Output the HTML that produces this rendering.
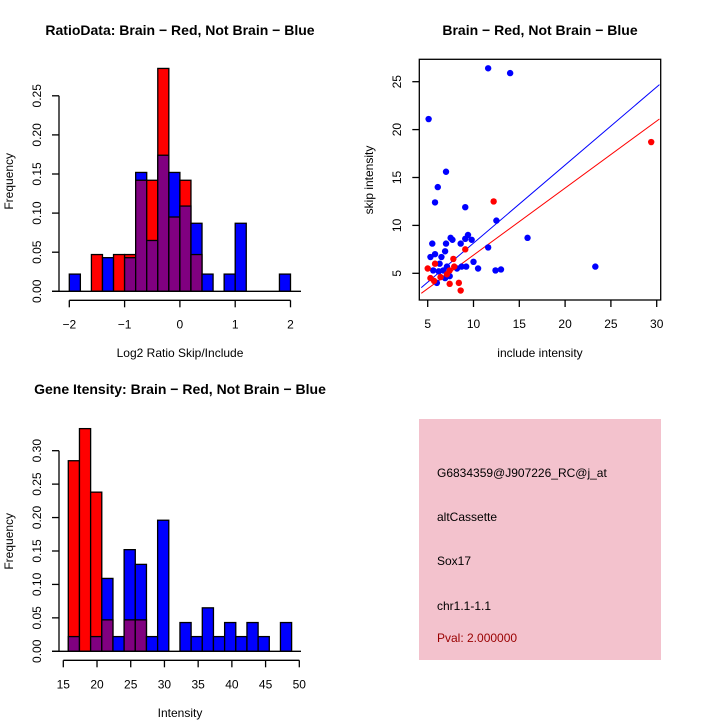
<!DOCTYPE html>
<html><head><meta charset="utf-8"><style>
body{margin:0;background:#fff}
svg{display:block;font-family:"Liberation Sans",sans-serif}
</style></head><body>
<svg id="c" width="720" height="720" viewBox="0 0 720 720">
<g id="g1"></g>
<g id="g2"></g>
<g id="g3"></g>
<g id="g4">
<rect x="419" y="419" width="242" height="241" fill="#f3c2cd"/>
<text x="437" y="477" font-size="12">G6834359@J907226_RC@j_at</text>
<text x="437" y="521" font-size="12">altCassette</text>
<text x="437" y="565" font-size="12">Sox17</text>
<text x="437" y="610" font-size="12">chr1.1-1.1</text>
<text x="437" y="642" font-size="12" fill="#990000">Pval: 2.000000</text>
</g>
</svg>
<script>
// Panel 1: ratio histogram
const ratioBinStart = -2, ratioBinWidth = 0.2;
const ratioBlue = [0.022,0,0,0.043,0,0.043,0.152,0.065,0.174,0.152,0.109,0.087,0.022,0,0.022,0.087,0,0,0,0.022];
const ratioRed  = [0,0,0.047,0,0.047,0.047,0.142,0.142,0.285,0.095,0.142,0.047,0,0,0,0,0,0,0,0];
const ratioXTicks = [-2,-1,0,1,2];
const ratioYTicks = [0,0.05,0.10,0.15,0.20,0.25];
const ratioYLabels = ["0.00","0.05","0.10","0.15","0.20","0.25"];
// Panel 2: scatter
const blueInclude = [11.6,14.0,5.1,7.0,6.1,5.8,9.1,12.5,15.9,23.3,11.6,12.4,13.0,10.5,10.0,9.4,9.8,8.6,7.5,7.7,7.0,5.5,6.9,5.3,5.8,6.3,6.7,6.0,6.9,7.4,9.2,8.7,8.2,5.6,6.2,7.1,6.5,9.1];
const blueSkip    = [26.4,25.9,21.1,15.6,14.0,12.4,11.9,10.5,8.7,5.7,7.7,5.3,5.4,5.5,6.2,9.0,8.5,8.1,8.7,8.5,8.1,8.1,7.3,6.7,7.0,6.0,5.3,4.0,4.5,4.7,5.7,5.7,5.5,5.3,5.2,5.7,6.7,8.6];
const redInclude = [29.4,12.2,9.1,7.8,5.0,5.3,5.7,5.8,6.4,7.4,8.4,8.6,7.4,7.9,7.1];
const redSkip    = [18.7,12.5,7.5,6.5,5.5,4.5,4.2,6.0,4.6,3.9,4.0,3.2,5.3,5.7,4.9];
const blueFit = [0.0, 0.815];
const redFit = [-0.1, 0.70];
const scatterXTicks = [5,10,15,20,25,30];
const scatterYTicks = [5,10,15,20,25];
// Panel 3: intensity histogram
const intBinStart = 15.74, intBinWidth = 1.656;
const intBlue = [0.022,0,0.022,0.109,0.022,0.152,0.130,0.022,0.196,0,0.043,0.022,0.065,0.022,0.043,0.022,0.043,0.022,0,0.043];
const intRed  = [0.285,0.333,0.238,0.047,0,0.047,0.047,0,0,0,0,0,0,0,0,0,0,0,0,0];
const intXTicks = [15,20,25,30,35,40,45,50];
const intYTicks = [0,0.05,0.10,0.15,0.20,0.25,0.30];
const intYLabels = ["0.00","0.05","0.10","0.15","0.20","0.25","0.30"];

const NS="http://www.w3.org/2000/svg";
function mk(parent,tag,attrs,text){const e=document.createElementNS(NS,tag);for(const k in attrs)e.setAttribute(k,attrs[k]);if(text!==undefined)e.textContent=text;parent.appendChild(e);return e;}

function histPanel(g,o){
  const X=v=>o.x0+(v-o.xv0)*o.xs, Y=v=>o.y0-v*o.ys;
  for(let i=0;i<o.blue.length;i++){
    const b=o.blue[i], r=o.red[i];
    const l=X(o.binStart+i*o.binW), w=o.binW*o.xs;
    const mx=Math.max(b,r), mn=Math.min(b,r);
    if(mx>0){
      const e=mk(g,'rect',{x:l,y:Y(mx),width:w,height:mx*o.ys,fill:b>=r?'#0000ff':'#ff0000',stroke:'#000','stroke-width':1.3});
      
      
    }
    if(mn>0){
      const e=mk(g,'rect',{x:l,y:Y(mn),width:w,height:mn*o.ys,fill:'#800080',stroke:'#000','stroke-width':1.3});
      
      
    }
  }
  mk(g,'line',{x1:52,x2:301,y1:o.y0,y2:o.y0,stroke:'#000','stroke-width':1.3});
  const xa=o.y0+9;
  mk(g,'line',{x1:X(o.xt[0]),x2:X(o.xt[o.xt.length-1]),y1:xa,y2:xa,stroke:'#000','stroke-width':1.3});
  o.xt.forEach(t=>{mk(g,'line',{x1:X(t),x2:X(t),y1:xa,y2:xa+7,stroke:'#000','stroke-width':1.3});
    const e=mk(g,'text',{x:X(t),y:xa+28,'font-size':12,'text-anchor':'middle'},String(t).replace('-','\u2212'));
    
    });
  const ya=59;
  mk(g,'line',{x1:ya,x2:ya,y1:Y(o.yt[0]),y2:Y(o.yt[o.yt.length-1]),stroke:'#000','stroke-width':1.3});
  o.yt.forEach((t,i)=>{mk(g,'line',{x1:ya-7,x2:ya,y1:Y(t),y2:Y(t),stroke:'#000','stroke-width':1.3});
    const e=mk(g,'text',{x:0,y:0,'font-size':12,'text-anchor':'middle',transform:`translate(41,${Y(t)}) rotate(-90)`},o.yl[i]);
    
    });
  let e=mk(g,'text',{x:180,y:o.titleY,'font-size':14,'font-weight':'bold','text-anchor':'middle'},o.title);
  
  
  e=mk(g,'text',{x:180,y:o.xlabY,'font-size':12,'text-anchor':'middle'},o.xlab);
  
  
  e=mk(g,'text',{x:0,y:0,'font-size':12,'text-anchor':'middle',transform:`translate(13,${o.y0-110}) rotate(-90)`},'Frequency');
  
  
}
histPanel(document.getElementById('g1'),{x0:69.3,xv0:-2,xs:55.3,y0:291.3,ys:782,binStart:ratioBinStart,binW:ratioBinWidth,blue:ratioBlue,red:ratioRed,xt:ratioXTicks,yt:ratioYTicks,yl:ratioYLabels,title:'RatioData: Brain \u2212 Red, Not Brain \u2212 Blue',titleY:35,xlab:'Log2 Ratio Skip/Include',xlabY:357});
histPanel(document.getElementById('g3'),{x0:63.3,xv0:15,xs:6.743,y0:651.3,ys:668.7,binStart:intBinStart,binW:intBinWidth,blue:intBlue,red:intRed,xt:intXTicks,yt:intYTicks,yl:intYLabels,title:'Gene Itensity: Brain \u2212 Red, Not Brain \u2212 Blue',titleY:394,xlab:'Intensity',xlabY:717});

// scatter
(function(){
  const g=document.getElementById('g2');
  const X=v=>427.7+(v-5)*9.16, Y=v=>273.3-(v-5)*9.58;
  const L=419.3,R=660.7,T=59.3,B=300;
  let e=mk(g,'rect',{x:L,y:T,width:R-L,height:B-T,fill:'none',stroke:'#000','stroke-width':1.3});
  
  
  const x1=4.3,x2=30.3;
  [[blueFit,'#0000ff','blue-fit-line'],[redFit,'#ff0000','red-fit-line']].forEach(([f,c,n])=>{
    const l=mk(g,'line',{x1:X(x1),y1:Y(f[0]+f[1]*x1),x2:X(x2),y2:Y(f[0]+f[1]*x2),stroke:c,'stroke-width':1});
    
    
  });
  blueInclude.forEach((v,i)=>{const p=mk(g,'circle',{cx:X(v),cy:Y(blueSkip[i]),r:3.2,fill:'#0000ff'});
    
    });
  redInclude.forEach((v,i)=>{const p=mk(g,'circle',{cx:X(v),cy:Y(redSkip[i]),r:3.2,fill:'#ff0000'});
    
    });
  scatterXTicks.forEach(t=>{mk(g,'line',{x1:X(t),x2:X(t),y1:B,y2:B+7,stroke:'#000','stroke-width':1.3});
    const e=mk(g,'text',{x:X(t),y:B+28,'font-size':12,'text-anchor':'middle'},t);
    
    });
  scatterYTicks.forEach(t=>{mk(g,'line',{x1:L-7,x2:L,y1:Y(t),y2:Y(t),stroke:'#000','stroke-width':1.3});
    const e=mk(g,'text',{x:0,y:0,'font-size':12,'text-anchor':'middle',transform:`translate(401,${Y(t)}) rotate(-90)`},t);
    
    });
  e=mk(g,'text',{x:540,y:35,'font-size':14,'font-weight':'bold','text-anchor':'middle'},'Brain \u2212 Red, Not Brain \u2212 Blue');
  
  
  e=mk(g,'text',{x:540,y:357,'font-size':12,'text-anchor':'middle'},'include intensity');
  
  
  e=mk(g,'text',{x:0,y:0,'font-size':12,'text-anchor':'middle',transform:'translate(373,180) rotate(-90)'},'skip intensity');
  
  
})();
</script>
</body></html>
